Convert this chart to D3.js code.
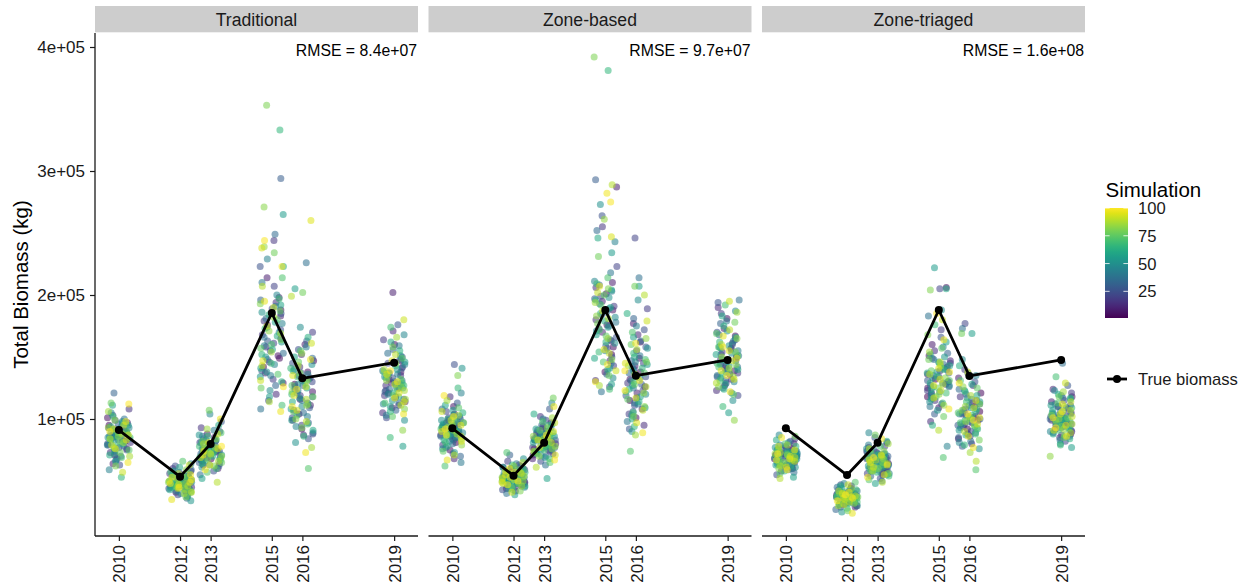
<!DOCTYPE html>
<html>
<head>
<meta charset="utf-8">
<script src="https://cdn.jsdelivr.net/npm/d3@7"></script>
<style>
  html, body { margin: 0; padding: 0; background: #fff; }
  svg { display: block; font-family: "Liberation Sans", Arial, sans-serif; }
</style>
</head>
<body>
<svg id="chart" width="1253" height="588"></svg>
<script>
// ---------------- DATA ----------------
const years = [2010, 2012, 2013, 2015, 2016, 2019];
const panels = ["Traditional", "Zone-based", "Zone-triaged"];
const rmseLabels = ["RMSE = 8.4e+07", "RMSE = 9.7e+07", "RMSE = 1.6e+08"];
const yTickValues = [100000, 200000, 300000, 400000];
const yTickLabels = ["1e+05", "2e+05", "3e+05", "4e+05"];
const legendTicks = [25, 50, 75, 100];

// True biomass (kg) per panel, one value per year
const trueTraditional = [91100, 53500, 79800, 185500, 132800, 145400];
const trueZoneBased   = [92500, 54300, 80900, 187900, 134900, 147600];
const trueZoneTriaged = [92500, 54800, 80900, 187900, 134700, 147600];

// Simulated total biomass, thousands of kg; simulation number = position (1..100)
const simTraditional = [
 [88,76,95,82,101,71,90,84,64,97,79,86,93,73,108,81,89,68,99,85,
  77,92,87,63,103,80,94,75,83,91,70,121,86,96,78,88,67,100,84,90,
  74,98,82,87,59,93,79,105,85,72,89,95,81,66,92,76,86,111,83,97,
  71,88,80,94,53,87,78,102,84,91,69,85,96,75,90,82,113,73,89,62,
  99,86,77,93,81,106,70,88,84,95,79,57,92,83,87,76,98,65,90,112],
 [50,44,55,47,41,52,58,46,49,38,53,45,60,48,43,51,56,42,47,54,
  39,50,46,62,48,44,52,57,41,49,45,53,36,47,51,59,43,48,55,46,
  50,42,54,64,45,49,40,52,47,56,44,51,34,48,58,46,53,43,50,61,
  47,41,55,49,45,52,38,48,57,44,51,46,66,42,50,54,47,37,53,49,
  45,59,43,48,52,40,56,46,50,44,63,47,41,53,49,35,55,48,45,51],
 [74,68,82,71,63,78,88,70,76,60,85,72,66,79,93,69,75,81,64,73,
  90,67,77,58,83,71,74,98,65,80,72,62,86,75,69,78,55,73,84,70,
  67,91,76,63,79,72,104,68,81,74,61,87,71,77,66,83,73,52,79,70,
  95,75,64,80,69,86,72,60,78,74,67,89,71,57,82,76,65,107,73,68,
  84,62,77,70,92,75,66,80,49,72,88,69,76,63,81,74,100,71,59,78],
 [165,142,188,149,129,176,151,198,214,137,183,158,120,194,168,244,146,179,132,207,
  161,189,115,172,155,223,139,185,163,294,148,196,127,174,249,153,181,108,166,210,
  191,135,159,229,177,144,200,123,170,138,150,186,134,162,265,118,178,156,192,141,
  223,167,130,184,152,333,173,145,197,111,160,214,136,180,157,187,125,234,164,353,
  193,271,171,239,154,182,114,169,207,143,190,131,175,238,147,195,106,223,244,126],
 [128,104,147,116,92,138,122,160,99,133,111,152,87,126,142,107,119,170,95,135,
  88,113,130,101,156,124,84,145,109,137,118,163,97,127,149,105,226,121,89,140,
  115,131,102,158,123,94,136,110,174,128,81,144,117,99,132,205,108,125,150,91,
  139,114,166,103,129,86,141,120,96,134,112,155,60,127,106,146,118,202,93,137,
  122,100,153,111,131,77,143,116,199,98,126,161,107,135,260,119,148,73,124,110],
 [132,118,147,125,160,109,138,121,202,114,129,171,105,142,127,135,119,164,111,145,
  123,137,101,150,128,116,176,133,122,141,107,156,130,113,148,124,153,139,117,131,
  159,103,136,126,144,112,168,120,134,99,151,128,115,140,125,78,146,110,133,162,
  121,137,106,155,129,118,143,85,127,174,113,138,124,149,102,132,119,158,135,108,
  126,145,91,131,116,166,123,140,111,152,128,180,114,136,121,147,104,130,139,117]
];

const simZoneBased = [
 [93,81,104,88,97,75,110,90,85,99,68,94,87,118,92,79,101,86,95,72,
  89,106,83,96,144,91,77,100,88,113,84,98,70,93,108,86,95,80,102,90,
  65,97,87,121,92,82,103,89,76,99,94,141,85,107,91,73,96,88,111,83,
  100,93,78,105,90,87,125,95,81,98,62,92,86,109,94,74,101,89,97,84,
  135,91,79,103,96,88,115,93,71,99,86,106,90,82,95,67,102,87,119,92],
 [55,47,60,52,44,57,50,63,53,46,58,49,54,42,61,51,56,48,66,53,
  45,59,50,55,43,62,52,48,57,54,71,49,56,46,60,51,53,40,58,50,
  64,47,55,52,45,59,49,56,53,68,44,57,51,48,61,54,39,52,58,50,
  46,55,63,49,53,57,43,51,60,47,54,73,50,56,45,52,59,48,55,42,
  53,62,50,57,46,54,51,65,48,56,52,41,58,49,55,60,47,53,50,57],
 [83,76,92,79,71,87,97,78,85,68,94,80,74,88,102,77,84,90,72,82,
  99,75,86,66,91,79,83,108,73,89,81,70,95,84,77,87,63,82,93,78,
  75,100,85,71,88,80,113,76,90,83,69,96,79,86,74,92,81,52,88,78,
  104,84,72,89,77,95,80,68,87,83,75,98,79,65,91,85,73,117,82,76,
  93,70,86,78,101,84,74,89,61,81,97,77,85,71,90,83,110,80,67,87],
 [176,152,201,158,138,188,163,210,287,147,195,170,131,206,180,255,157,191,143,223,
  173,199,126,184,166,264,150,197,175,293,159,208,136,186,252,164,193,122,178,218,
  203,145,171,243,189,155,211,133,182,273,161,198,141,174,234,128,190,168,204,149,
  246,179,140,196,162,381,185,154,209,124,172,214,146,192,167,200,135,231,177,392,
  205,148,183,261,165,194,127,181,289,153,202,139,187,247,156,207,130,282,275,144],
 [138,115,162,126,101,149,132,177,108,143,121,168,95,136,155,117,129,189,104,145,
  246,123,140,111,172,134,92,158,119,147,128,181,106,137,163,113,214,131,98,151,
  125,142,112,175,133,103,146,120,196,139,90,157,127,109,144,207,118,135,166,100,
  150,124,185,114,141,94,153,130,105,148,122,170,74,137,116,160,128,207,102,146,
  134,110,165,121,143,87,156,126,200,107,136,179,117,145,97,131,161,89,139,123],
 [150,136,167,143,181,127,157,139,173,132,148,190,123,161,145,154,137,185,129,164,
  141,156,119,170,147,134,194,152,140,160,125,177,149,131,168,142,196,158,135,151,
  179,121,155,144,163,130,187,138,153,115,171,146,133,159,143,105,166,128,152,183,
  140,157,124,175,148,136,162,110,145,192,131,158,142,169,120,151,137,178,154,126,
  144,165,99,150,134,186,141,160,129,172,147,195,132,155,139,167,122,149,158,135]
];

const simZoneTriaged = [
 [71,64,76,68,60,73,80,66,70,58,75,67,62,72,84,65,69,77,61,71,
  78,63,70,55,74,67,72,82,62,69,68,59,76,71,65,73,57,70,79,66,
  63,81,72,60,75,68,87,64,74,70,61,77,67,71,63,74,69,53,73,66,
  83,71,62,75,67,78,68,58,72,70,64,80,66,56,74,69,63,86,70,65,
  76,60,71,67,79,72,62,73,52,69,78,66,70,61,75,68,85,67,59,72],
 [38,33,41,36,30,39,44,35,37,29,40,34,46,37,32,39,42,31,36,40,
  29,38,35,47,37,33,40,43,31,38,34,41,27,36,39,45,33,37,42,35,
  38,32,40,48,34,37,30,39,36,43,33,38,25,37,44,35,40,32,38,46,
  36,31,41,37,34,39,28,36,43,33,38,35,49,32,37,41,36,26,40,37,
  34,44,32,37,39,30,42,35,38,33,47,36,31,40,37,24,41,36,34,39],
 [67,61,73,64,57,70,77,62,68,55,74,63,59,69,81,60,66,72,56,65,
  78,58,68,52,71,63,67,85,57,70,64,54,75,66,61,69,50,65,73,62,
  59,79,67,56,70,63,89,60,72,66,55,76,62,68,58,72,65,48,70,61,
  82,66,57,71,62,75,64,54,69,67,59,78,63,51,72,68,58,87,65,60,
  74,56,68,62,80,67,58,70,49,64,76,61,67,55,71,65,84,63,53,69],
 [132,118,151,206,125,142,109,160,136,121,147,128,98,155,139,115,130,172,123,145,
  205,134,112,149,127,166,119,140,131,104,153,126,130,137,117,144,129,183,110,148,
  135,122,158,78,133,146,114,127,141,188,120,138,107,150,222,124,162,116,143,205,
  129,137,95,152,126,140,113,176,134,121,145,69,131,118,157,139,102,148,125,168,
  204,133,120,143,111,154,128,136,91,146,123,180,132,117,141,127,164,108,138,185],
 [106,92,121,99,84,113,102,133,88,110,97,127,80,104,118,94,101,140,86,115,
  177,96,108,90,130,103,78,120,95,112,100,137,85,107,124,93,173,105,82,116,
  98,111,89,135,104,81,117,96,148,109,76,123,101,91,114,169,94,106,128,87,
  119,99,143,92,108,79,122,103,88,114,97,131,59,105,93,125,100,169,83,112,
  107,95,126,98,110,73,119,102,66,90,109,138,96,115,86,101,129,77,104,99],
 [101,92,110,97,118,88,105,95,114,90,99,124,85,108,98,103,94,121,87,111,
  96,104,82,115,100,91,127,102,95,109,86,117,100,89,112,97,145,106,93,101,
  119,83,104,98,110,90,123,96,103,80,116,100,92,107,99,77,111,88,102,120,
  95,105,84,117,100,93,109,79,98,134,91,106,97,113,85,101,94,118,103,87,
  99,110,70,100,92,122,96,107,89,114,102,129,91,104,95,112,86,101,106,93]
];

// ---------------- LAYOUT ----------------
const svg = d3.select("#chart");
const panelLeft = [95, 428.5, 762];
const panelW = 323;
const plotTop = 33, plotBottom = 536;
const stripTop = 6, stripH = 26.3;
const textColor = "#1a1a1a";
const fsTick = 17, fsStrip = 17.6, fsLegend = 16.6, fsTitle = 20.5, fsRmse = 15.8;

const yScale = d3.scaleLinear().domain([5645, 411290]).range([plotBottom, plotTop]);
const xScale = d3.scaleLinear().domain([2009.22, 2019.78]).range([0, panelW]);
const color = d3.scaleSequential(d3.interpolateViridis).domain([1, 100]);

const simSets = [simTraditional, simZoneBased, simZoneTriaged];
const trueSets = [trueTraditional, trueZoneBased, trueZoneTriaged];

// deterministic jitter (position only, like geom_jitter width 0.38)
function jitter(p, yi, i) {
  const s = Math.sin((p + 1) * 127.1 + (yi + 1) * 311.7 + (i + 1) * 74.7) * 43758.5453;
  return ((s - Math.floor(s)) - 0.5) * 0.76;
}

panels.forEach((name, p) => {
  const g = svg.append("g").attr("transform", `translate(${panelLeft[p]},0)`);

  // strip
  g.append("rect").attr("x", 0).attr("y", stripTop).attr("width", panelW).attr("height", stripH)
    .attr("fill", "#CDCDCD");
  g.append("text").attr("x", panelW / 2).attr("y", 25.8).attr("text-anchor", "middle")
    .attr("font-size", fsStrip).attr("fill", textColor).text(name);

  // points
  const pts = [];
  simSets[p].forEach((vals, yi) => {
    vals.forEach((v, i) => pts.push({ year: years[yi], value: v * 1000, sim: i + 1, jx: jitter(p, yi, i) }));
  });
  g.append("g").selectAll("circle").data(pts).join("circle")
    .attr("cx", d => xScale(d.year + d.jx))
    .attr("cy", d => yScale(d.value))
    .attr("r", 3.5)
    .attr("fill", d => color(d.sim))
    .attr("fill-opacity", 0.55);

  // true biomass line
  const tdata = years.map((yr, i) => ({ year: yr, value: trueSets[p][i] }));
  g.append("path").datum(tdata)
    .attr("d", d3.line().x(d => xScale(d.year)).y(d => yScale(d.value)))
    .attr("fill", "none").attr("stroke", "#000").attr("stroke-width", 2.8).attr("stroke-linejoin", "round");
  g.append("g").selectAll("circle").data(tdata).join("circle")
    .attr("cx", d => xScale(d.year)).attr("cy", d => yScale(d.value)).attr("r", 4).attr("fill", "#000");

  // RMSE label
  g.append("text").attr("x", panelW - 1).attr("y", 56).attr("text-anchor", "end")
    .attr("font-size", fsRmse).attr("fill", "#000").text(rmseLabels[p]);

  // x axis
  const xAxis = d3.axisBottom(xScale).tickValues(years).tickFormat(d3.format("d")).tickSize(5).tickSizeOuter(0);
  const xa = g.append("g").attr("transform", `translate(0,${plotBottom})`).call(xAxis);
  xa.select(".domain").attr("stroke", "#1a1a1a").attr("stroke-width", 1.3).attr("d", `M0,0H${panelW}`);
  xa.selectAll(".tick line").attr("stroke", "#1a1a1a").attr("stroke-width", 1.2);
  xa.selectAll(".tick text")
    .attr("font-size", fsTick).attr("fill", textColor).attr("font-family", "Liberation Sans, Arial, sans-serif")
    .attr("text-anchor", "end").attr("transform", "rotate(-90)")
    .attr("x", -9).attr("y", 0).attr("dy", "0.36em");

  // y axis only on first panel
  if (p === 0) {
    const yAxis = d3.axisLeft(yScale).tickValues(yTickValues)
      .tickFormat((d, i) => yTickLabels[i]).tickSize(5).tickSizeOuter(0);
    const ya = g.append("g").call(yAxis);
    ya.select(".domain").attr("stroke", "#1a1a1a").attr("stroke-width", 1.3).attr("d", `M0,${plotBottom}V${plotTop}`);
    ya.selectAll(".tick line").attr("stroke", "#1a1a1a").attr("stroke-width", 1.2);
    ya.selectAll(".tick text").attr("font-size", fsTick).attr("fill", textColor)
      .attr("font-family", "Liberation Sans, Arial, sans-serif").attr("x", -10);
  }
});

// y axis title
svg.append("text").attr("transform", "translate(28,284.5) rotate(-90)").attr("text-anchor", "middle")
  .attr("font-size", fsTitle).attr("fill", "#000").text("Total Biomass (kg)");

// ---------------- LEGEND ----------------
const lg = svg.append("g");
lg.append("text").attr("x", 1105.5).attr("y", 197).attr("font-size", fsTitle).attr("fill", "#000").text("Simulation");

const barX = 1105, barW = 23, barTop = 208, barBottom = 318;
const lScale = d3.scaleLinear().domain([1, 100]).range([barBottom, barTop]);
const defs = svg.append("defs");
const grad = defs.append("linearGradient").attr("id", "vgrad").attr("x1", 0).attr("y1", 1).attr("x2", 0).attr("y2", 0);
d3.range(0, 1.0001, 0.05).forEach(t => grad.append("stop").attr("offset", t).attr("stop-color", d3.interpolateViridis(t)));
lg.append("rect").attr("x", barX).attr("y", barTop).attr("width", barW).attr("height", barBottom - barTop).attr("fill", "url(#vgrad)");
legendTicks.forEach(t => {
  const yy = lScale(t);
  lg.append("line").attr("x1", barX).attr("x2", barX + 4.6).attr("y1", yy).attr("y2", yy).attr("stroke", "#fff").attr("stroke-opacity", 0.8);
  lg.append("line").attr("x1", barX + barW - 4.6).attr("x2", barX + barW).attr("y1", yy).attr("y2", yy).attr("stroke", "#fff").attr("stroke-opacity", 0.8);
  lg.append("text").attr("x", 1138).attr("y", yy).attr("dy", "0.36em").attr("font-size", fsLegend).attr("fill", textColor).text(t);
});

lg.append("line").attr("x1", 1107).attr("x2", 1127).attr("y1", 379).attr("y2", 379).attr("stroke", "#000").attr("stroke-width", 2.8);
lg.append("circle").attr("cx", 1117).attr("cy", 379).attr("r", 4).attr("fill", "#000");
lg.append("text").attr("x", 1138).attr("y", 379).attr("dy", "0.36em").attr("font-size", fsLegend).attr("fill", textColor).text("True biomass");
</script>
</body>
</html>
